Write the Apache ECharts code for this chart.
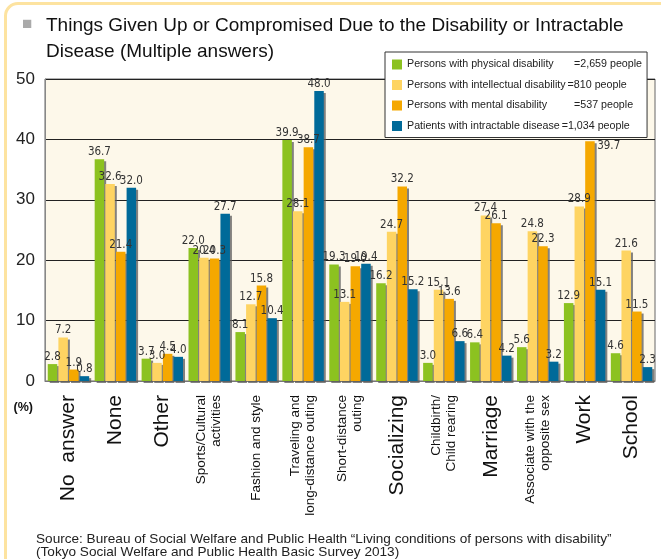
<!DOCTYPE html>
<html>
<head>
<meta charset="utf-8">
<script src="https://cdn.jsdelivr.net/npm/echarts@6/dist/echarts.min.js"></script>
<style>
  html, body { margin: 0; padding: 0; background: #fff; }
  #wrap { position: relative; width: 661px; height: 559px; overflow: hidden; }
  #frame {
    position: absolute; left: 4px; top: 2px; width: 720px; height: 620px;
    border: 3px solid #fde3a0; border-radius: 14px; box-sizing: border-box;
  }
  #chart { position: absolute; left: 0; top: 0; width: 661px; height: 559px; }
</style>
</head>
<body>
<div id="wrap">
  <div id="frame"></div>
  <div id="chart"></div>
</div>
<script>
const categories = [
  'No  answer', 'None', 'Other', 'Sports/Cultural\nactivities', 'Fashion and style',
  'Traveling and\nlong-distance outing', 'Short-distance\nouting', 'Socializing',
  'Childbirth/\nChild rearing', 'Marriage', 'Associate with the\nopposite sex', 'Work', 'School'
]
// categories drawn with the large label font
const bigLabels = ['No  answer', 'None', 'Other', 'Socializing', 'Marriage', 'Work', 'School']

const seriesNames = [
  'Persons with physical disability',
  'Persons with intellectual disability',
  'Persons with mental disability',
  'Patients with intractable disease',
]
const seriesCounts = ['=2,659 people', '=810 people', '=537 people', '=1,034 people']

const physical     = [2.8, 36.7, 3.7, 22.0, 8.1, 39.9, 19.3, 16.2, 3.0, 6.4, 5.6, 12.9, 4.6]
const intellectual = [7.2, 32.6, 3.0, 20.4, 12.7, 28.1, 13.1, 24.7, 15.1, 27.4, 24.8, 28.9, 21.6]
const mental       = [1.9, 21.4, 4.5, 20.3, 15.8, 38.7, 19.0, 32.2, 13.6, 26.1, 22.3, 39.7, 11.5]
const intractable  = [0.8, 32.0, 4.0, 27.7, 10.4, 48.0, 19.4, 15.2, 6.6, 4.2, 3.2, 15.1, 2.3]

const COLORS = ['#8cc220', '#fed462', '#f5a800', '#006a99']
const NARROW = "'Liberation Sans Narrow', 'Arial Narrow', 'DejaVu Sans Condensed', 'Liberation Sans', sans-serif"
const SANS = "'Liberation Sans', Arial, sans-serif"

const chart = echarts.init(document.getElementById('chart'))

// sideLabel: category index whose value label sits beside the bar (clear of the legend)
function barSeries(name, values, color, sideLabel = -1) {
  return {
    name,
    type: 'bar',
    data: values.map((v, i) =>
      i === sideLabel ? { value: v, label: { position: [12, -1] } } : v
    ),
    barWidth: 9.5,
    barGap: '12%',
    itemStyle: {
      color,
      shadowColor: 'rgba(90, 90, 90, 0.75)',
      shadowOffsetX: 2,
      shadowOffsetY: 2,
      shadowBlur: 0,
    },
    label: {
      show: true,
      position: 'top',
      distance: 1,
      color: '#333',
      fontFamily: NARROW,
      fontSize: 11.5,
      formatter: (p) => p.value.toFixed(1),
    },
  }
}

chart.setOption({
  animation: false,
  backgroundColor: 'transparent',
  textStyle: { fontFamily: SANS },
  title: [
    {
      text: '■',
      left: 17,
      top: 11,
      textStyle: { color: '#aaa', fontSize: 17, fontWeight: 'normal', fontFamily: SANS },
    },
    {
      text: 'Things Given Up or Compromised Due to the Disability or Intractable\nDisease (Multiple answers)',
      left: 41,
      top: 8,
      textStyle: { color: '#111', fontSize: 19, fontWeight: 'normal', lineHeight: 26, fontFamily: SANS },
    },
    {
      text: 'Source: Bureau of Social Welfare and Public Health \u201cLiving conditions of persons with disability\u201d\n(Tokyo Social Welfare and Public Health Basic Survey 2013)',
      left: 31,
      top: 527,
      textStyle: { color: '#222', fontSize: 13.6, fontWeight: 'normal', lineHeight: 13.5, fontFamily: SANS },
    },
  ],
  legend: {
    orient: 'vertical',
    left: 385,
    top: 52,
    padding: [7, 5, 6, 7],
    itemWidth: 10,
    itemHeight: 10,
    itemGap: 9.5,
    icon: 'rect',
    backgroundColor: '#fff',
    borderColor: '#333',
    borderWidth: 1,
    data: seriesNames,
    formatter: (name) => {
      const i = seriesNames.indexOf(name)
      const key = i === 0 || i === 2 ? 'n' : 'm'
      return `{${key}|${name}}{v|${seriesCounts[i]}}`
    },
    textStyle: {
      color: '#222',
      fontSize: 10.7,
      fontFamily: SANS,
      rich: {
        n: { fontSize: 10.7, width: 167, fontFamily: SANS, color: '#222' },
        m: { fontSize: 10.7, padding: [0, 2, 0, 0], fontFamily: SANS, color: '#222' },
        v: { fontSize: 10.7, fontFamily: SANS, color: '#222' },
      },
    },
  },
  grid: {
    left: 45,
    right: 6,
    top: 79,
    bottom: 178,
    show: true,
    backgroundColor: '#fdf8ea',
    borderColor: '#666',
    borderWidth: 1,
  },
  xAxis: {
    type: 'category',
    data: categories,
    axisLine: { lineStyle: { color: '#777', width: 1 } },
    axisTick: { show: false },
    axisLabel: {
      rotate: 90,
      margin: 14,
      interval: 0,
      color: '#111',
      formatter: (v) => {
        if (bigLabels.includes(v)) return `{big|${v}}`
        return v.split('\n').map((l) => `{small|${l}}`).join('\n')
      },
      rich: {
        big: { fontSize: 21, fontFamily: SANS, color: '#111' },
        small: { fontSize: 13.5, lineHeight: 15, fontFamily: SANS, color: '#111' },
      },
    },
  },
  yAxis: {
    type: 'value',
    min: 0,
    max: 50,
    interval: 10,
    name: '(%)',
    nameLocation: 'start',
    nameGap: 20,
    nameTextStyle: { color: '#111', fontSize: 12.5, fontWeight: 'bold', align: 'right', padding: [0, 12, 0, 0] },
    axisLine: { show: true, lineStyle: { color: '#888' } },
    axisTick: { show: false },
    axisLabel: { color: '#222', fontSize: 17, margin: 10 },
    splitLine: { lineStyle: { color: '#222', width: 1 } },
  },
  series: [
    barSeries(seriesNames[0], physical, COLORS[0]),
    barSeries(seriesNames[1], intellectual, COLORS[1]),
    barSeries(seriesNames[2], mental, COLORS[2], 11),
    barSeries(seriesNames[3], intractable, COLORS[3]),
  ],
})
</script>
</body>
</html>
